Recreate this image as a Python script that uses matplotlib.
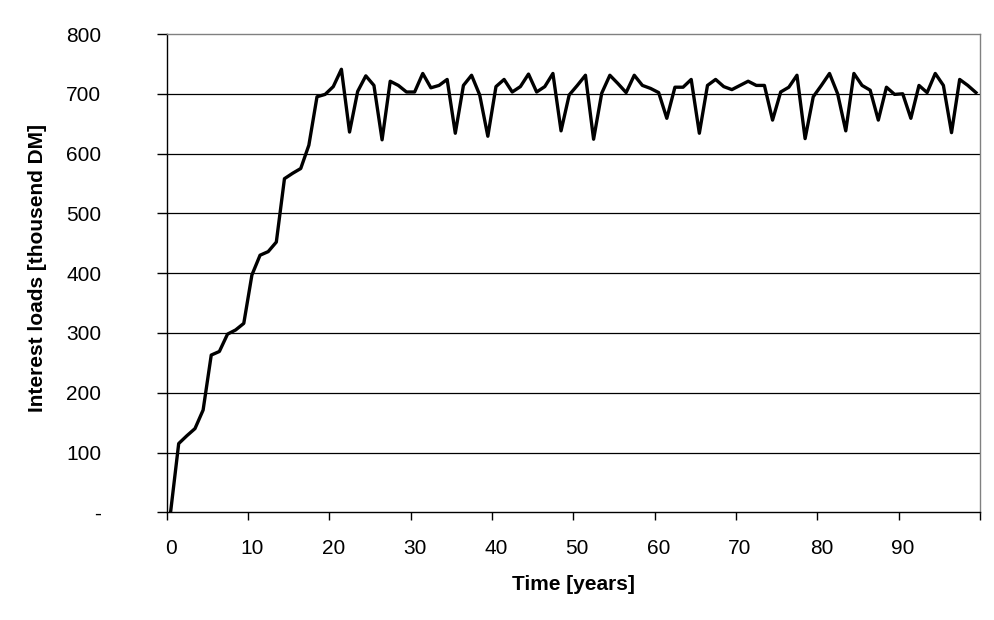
import matplotlib
matplotlib.use("Agg")
import matplotlib.pyplot as plt
import numpy as np

plt.rcParams['font.family'] = ['Liberation Sans', 'DejaVu Sans']

years = list(range(100))
interest_loads = [
    0, 115, 128, 140, 171, 263, 269, 298, 305, 316,
    397, 430, 436, 452, 558, 567, 575, 614, 695, 699,
    712, 741, 636, 704, 730, 714, 623, 721, 714, 703,
    703, 734, 710, 714, 724, 634, 714, 731, 698, 629,
    712, 724, 703, 712, 733, 703, 712, 734, 638, 698,
    714, 731, 624, 701, 731, 717, 702, 731, 714, 709,
    702, 659, 711, 711, 724, 634, 714, 724, 712, 707,
    714, 721, 714, 714, 656, 703, 711, 731, 625, 695,
    714, 734, 700, 638, 734, 714, 706, 656, 711, 699,
    700, 659, 714, 702, 734, 714, 635, 724, 714, 702,
]
x_tick_labels = ['0', '10', '20', '30', '40', '50', '60', '70', '80', '90']
y_ticks = [0, 100, 200, 300, 400, 500, 600, 700, 800]
y_tick_labels = ['-', '100', '200', '300', '400', '500', '600', '700', '800']

fig = plt.figure(figsize=(9.95, 6.2), dpi=100)
ax = fig.add_axes([166.5 / 995, 1 - 512.3 / 620, (980 - 166.5) / 995, (512.3 - 34) / 620])

# horizontal gridlines
for yv in y_ticks[1:-1]:
    ax.axhline(yv, color='black', lw=0.9, zorder=1)

x = np.array(years) + 0.5
ax.plot(x, interest_loads, color='black', lw=2.4, zorder=3)

ax.set_xlim(0, 100)
ax.set_ylim(0, 800)

ax.set_xticks(np.arange(0, 101, 10))
ax.set_xticklabels([])
ax.set_xticks(np.arange(0, 100, 10) + 0.5, minor=True)
ax.set_xticklabels(x_tick_labels, minor=True)
ax.tick_params(axis='x', which='major', direction='out', length=6, width=1, color='black')
ax.tick_params(axis='x', which='minor', length=0, pad=19, labelsize=15)

ax.set_yticks(y_ticks)
ax.set_yticklabels(y_tick_labels)
ax.tick_params(axis='y', direction='out', length=7, width=1, pad=40, labelsize=15)
for lbl in ax.get_yticklabels():
    lbl.set_horizontalalignment('right')

for s in ['left', 'bottom']:
    ax.spines[s].set_color('black')
    ax.spines[s].set_linewidth(1)
for s in ['top', 'right']:
    ax.spines[s].set_color('#808080')
    ax.spines[s].set_linewidth(1)

fig.text(573 / 995, 1 - 584 / 620, 'Time [years]', ha='center', va='center',
         fontsize=15, fontweight='bold')
fig.text(38 / 995, 1 - 268 / 620, 'Interest loads [thousend DM]', ha='center', va='center',
         rotation=90, fontsize=15, fontweight='bold')

fig.savefig('out.png', dpi=100)
